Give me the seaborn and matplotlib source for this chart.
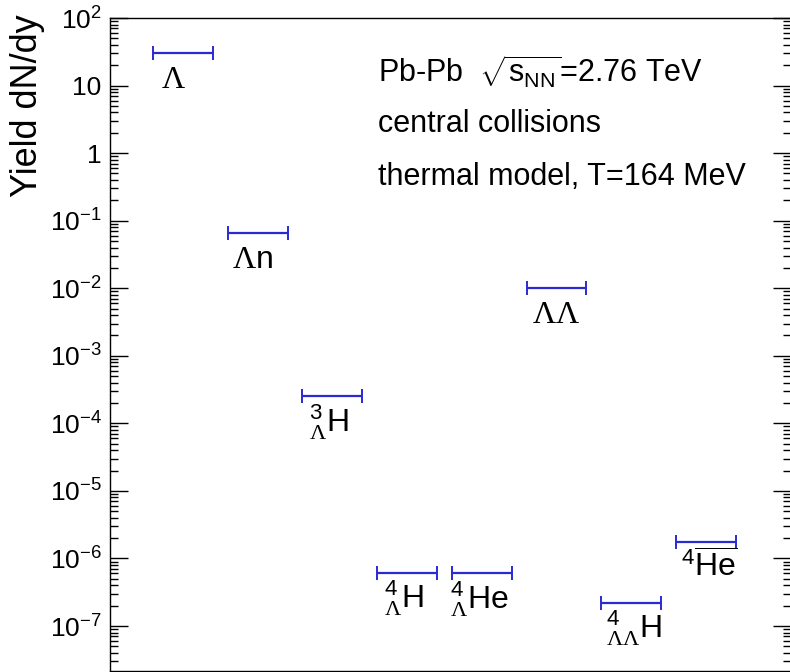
import matplotlib
matplotlib.use('Agg')
import matplotlib.pyplot as plt
import matplotlib.ticker as mticker
import seaborn as sns
import numpy as np

# particle species and thermal-model yields
species = ['Lambda', 'Lambda n', 'H3L', 'H4L', 'He4L', 'LambdaLambda', 'H4LL', 'antiHe4']
labels = [r'$\mathsf{\Lambda}$',
          r'$\mathsf{\Lambda}\mathrm{n}$',
          r'${}^{3}_{\mathsf{\Lambda}}\mathrm{H}$',
          r'${}^{4}_{\mathsf{\Lambda}}\mathrm{H}$',
          r'${}^{4}_{\mathsf{\Lambda}}\mathrm{He}$',
          r'$\mathsf{\Lambda\Lambda}$',
          r'${}^{4}_{\mathsf{\Lambda\Lambda}}\mathrm{H}$',
          r'${}^{4}\overline{\mathrm{He}}$']
yields = [30.0, 0.065, 2.5e-4, 6.1e-7, 6.0e-7, 1.0e-2, 2.2e-7, 1.75e-6]
label_dx = [-10, -5, -3, -3, -2, 0, 3, 3]
decades = np.arange(-7, 3)

info_lines = [r'Pb-Pb  $\sqrt{\mathrm{s}_{\mathrm{NN}}}$=2.76 TeV',
              'central collisions',
              'thermal model, T=164 MeV']

sns.set_theme(style='ticks')
plt.rcParams['font.family'] = ['Liberation Sans', 'DejaVu Sans']
plt.rcParams['text.color'] = 'black'
plt.rcParams['ytick.color'] = 'black'
plt.rcParams['ytick.labelcolor'] = 'black'
plt.rcParams['mathtext.fontset'] = 'custom'
plt.rcParams['mathtext.rm'] = 'Liberation Sans'
plt.rcParams['mathtext.it'] = 'Liberation Sans:italic'
plt.rcParams['mathtext.bf'] = 'Liberation Sans:bold'
plt.rcParams['mathtext.sf'] = 'Liberation Serif'

fig = plt.figure(figsize=(7.9, 6.72), dpi=100)
ax = fig.add_axes([110 / 790, 1 / 672, 681 / 790, 653 / 672])

x = np.arange(len(species))
ax.errorbar(x, yields, xerr=0.4, fmt='none', ecolor='#2a2ad2',
            elinewidth=1.6, capsize=5, capthick=1.4)

for xi, yi, lab, dx in zip(x, yields, labels, label_dx):
    ax.annotate(lab, xy=(xi, yi), xytext=(dx * 0.72, -25), textcoords='offset points',
                ha='center', va='baseline', fontsize=23, color='black')

ax.set_yscale('log')
ax.set_ylim(10 ** -7.666, 100)
ax.set_xlim(-0.977, 8.14)

ax.yaxis.set_major_locator(mticker.FixedLocator(10.0 ** decades))
ax.yaxis.set_minor_locator(mticker.LogLocator(base=10, subs=np.arange(2, 10), numticks=20))


def fmt(v, pos):
    e = int(round(np.log10(v)))
    if e == 0:
        return '1'
    if e == 1:
        return '10'
    return r'$10^{%d}$' % e


ax.yaxis.set_major_formatter(mticker.FuncFormatter(fmt))
ax.yaxis.set_minor_formatter(mticker.NullFormatter())
ax.tick_params(axis='y', which='both', direction='in', left=True, right=True,
               labelsize=19, pad=6, width=1, color='black', labelcolor='black')
ax.tick_params(axis='y', which='major', length=13)
ax.tick_params(axis='y', which='minor', length=6)
ax.tick_params(axis='x', which='both', bottom=False, top=False, labelbottom=False)

for s in ax.spines.values():
    s.set_color('black')
    s.set_linewidth(1)
ax.spines['right'].set_visible(False)

fig.text(28 / 790, 1 - 14 / 672, 'Yield dN/dy', rotation=90, fontsize=26,
         ha='center', va='top', color='black')

for i, line in enumerate(info_lines):
    ax.text(0.3935, 0.918 - i * 0.081, line, transform=ax.transAxes,
            fontsize=22, ha='left', va='center', color='black')

plt.savefig('out.png', dpi=100)
plt.close()
